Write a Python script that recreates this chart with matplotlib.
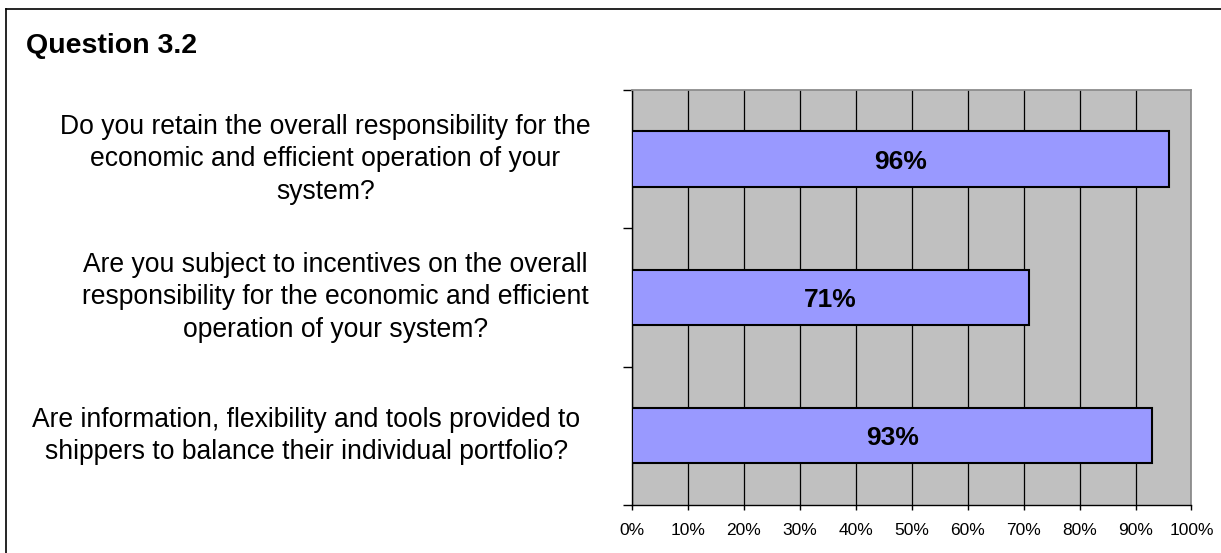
import numpy as np
from matplotlib import pyplot as plt
from matplotlib.lines import Line2D
from matplotlib.transforms import blended_transform_factory

plt.rcParams['font.family'] = ['Liberation Sans', 'DejaVu Sans']

questions = [
    "Do you retain the overall responsibility for the\neconomic and efficient operation of your\nsystem?",
    "Are you subject to incentives on the overall\nresponsibility for the economic and efficient\noperation of your system?",
    "Are information, flexibility and tools provided to\nshippers to balance their individual portfolio?",
]
yes_share = [96, 71, 93]
x_ticks = list(range(0, 101, 10))
x_tick_labels = [f"{t}%" for t in x_ticks]
# horizontal centre of each wrapped question, in axes fraction
label_centres = [-0.548, -0.530, -0.582]

fig = plt.figure(figsize=(12.21, 5.53), dpi=100)
ax = fig.add_axes([0.5176, 0.0868, 0.4582, 0.7505])

ypos = np.arange(len(questions))[::-1]
ax.set_facecolor('#c0c0c0')
ax.set_xlim(0, 100)
ax.set_ylim(-0.5, len(questions) - 0.5)

ax.set_xticks(x_ticks)
ax.set_xticklabels(x_tick_labels, fontsize=12.5)
ax.xaxis.grid(True, color='black', linewidth=0.9)
ax.set_axisbelow(True)

ax.barh(ypos, yes_share, height=0.4, color='#9999ff', edgecolor='black',
        linewidth=1.5, zorder=3)
for y, v in zip(ypos, yes_share):
    ax.text(v / 2, y, f"{v}%", ha='center', va='center_baseline', fontsize=19,
            fontweight='bold', zorder=4)

# category boundaries carry the y ticks; question text is placed separately
ax.set_yticks(np.arange(-0.5, len(questions), 1.0))
ax.set_yticklabels([])
ax.tick_params(axis='y', direction='out', length=6.5, width=1, color='black')
ax.tick_params(axis='x', direction='out', length=3.8, width=1, pad=9.5)

trans = blended_transform_factory(ax.transAxes, ax.transData)
for y, q, cx in zip(ypos, questions, label_centres):
    ax.text(cx, y, q, transform=trans, ha='center', va='center',
            multialignment='center', fontsize=19.1, linespacing=1.33)

for side in ['top', 'right']:
    ax.spines[side].set_color('#8c8c8c')
    ax.spines[side].set_linewidth(1.3)
for side in ['left', 'bottom']:
    ax.spines[side].set_color('black')
    ax.spines[side].set_linewidth(1.0)

fig.text(26 / 1221, 1 - 53 / 553, "Question 3.2", fontsize=20.5,
         fontweight='bold', va='baseline', ha='left')

# frame around the chart area (left and top edges)
fig.add_artist(Line2D([6 / 1221, 1.0], [1 - 9 / 553, 1 - 9 / 553],
                      transform=fig.transFigure, color='black', linewidth=1.2))
fig.add_artist(Line2D([6 / 1221, 6 / 1221], [0.0, 1 - 9 / 553],
                      transform=fig.transFigure, color='black', linewidth=1.2))

fig.savefig("out.png", dpi=100)
